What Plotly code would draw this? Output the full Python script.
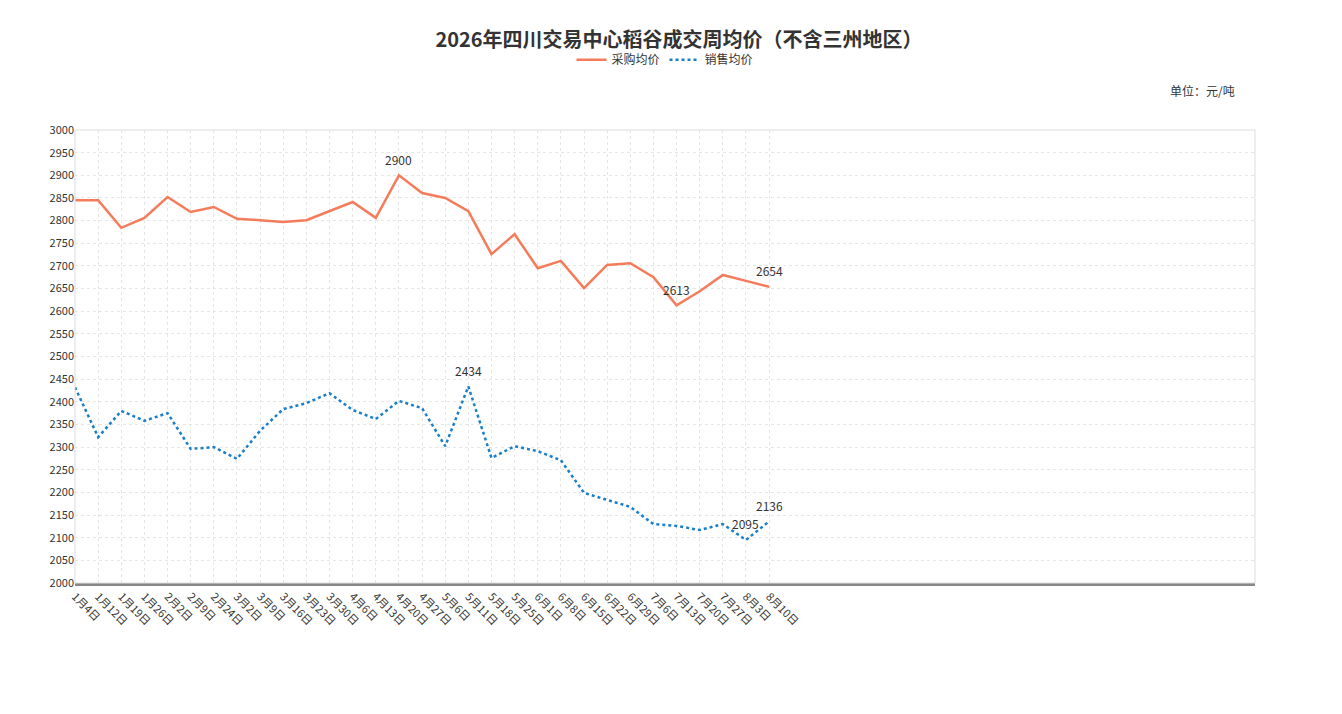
import plotly.graph_objects as go

dates = ["1月4日", "1月12日", "1月19日", "1月26日", "2月2日", "2月9日", "2月24日", "3月2日",
         "3月9日", "3月16日", "3月23日", "3月30日", "4月6日", "4月13日", "4月20日", "4月27日",
         "5月6日", "5月11日", "5月18日", "5月25日", "6月1日", "6月8日", "6月15日", "6月22日",
         "6月29日", "7月6日", "7月13日", "7月20日", "7月27日", "8月3日", "8月10日"]
purchase = [2845, 2845, 2784, 2806, 2852, 2819, 2830, 2804, 2801, 2797, 2801, 2821, 2841,
            2806, 2900, 2861, 2850, 2821, 2726, 2770, 2695, 2711, 2651, 2702, 2706, 2675,
            2613, 2644, 2680, 2667, 2654]
sales = [2432, 2322, 2380, 2358, 2375, 2296, 2300, 2274, 2336, 2384, 2397, 2419, 2382,
         2362, 2402, 2386, 2302, 2434, 2276, 2302, 2291, 2271, 2199, 2183, 2168, 2130,
         2126, 2117, 2130, 2095, 2136]

idx = list(range(len(dates)))
font = "Noto Sans CJK SC"

fig = go.Figure()
fig.add_trace(go.Scatter(x=idx, y=purchase, name="采购均价", mode="lines",
                         line=dict(color="#f47c5a", width=2.5)))
fig.add_trace(go.Scatter(x=idx, y=sales, name="销售均价", mode="lines",
                         line=dict(color="#1a7fc9", width=2.5, dash="dot")))

def mark(series):
    i_max = series.index(max(series))
    i_min = series.index(min(series))
    for i in sorted({i_max, i_min, len(series) - 1}):
        fig.add_annotation(x=i, y=series[i], text=str(series[i]), showarrow=False,
                           yshift=16, font=dict(size=12, color="#333"))

mark(purchase)
mark(sales)

fig.add_annotation(text="单位：元/吨", xref="paper", yref="paper", x=0.985, y=1.11,
                   xanchor="right", showarrow=False, font=dict(size=12, color="#333"))

fig.update_layout(
    width=1342, height=714,
    paper_bgcolor="white", plot_bgcolor="white",
    font=dict(family=font, color="#333"),
    title=dict(text="<b>2026年四川交易中心稻谷成交周均价（不含三州地区）</b>", x=0.5, y=0.965,
               xanchor="center", font=dict(size=20, color="#333")),
    legend=dict(orientation="h", x=0.5, xanchor="center", y=1.155, yanchor="middle",
                font=dict(size=12)),
    margin=dict(l=67, r=95, t=122, b=139),
    showlegend=True,
    xaxis=dict(range=[0, 51], tickvals=idx, ticktext=dates, tickangle=45,
               showgrid=True, gridcolor="#e6e6e6", griddash="dot",
               zeroline=False, showline=True, linecolor="#888", linewidth=3,
               tickfont=dict(size=11)),
    yaxis=dict(range=[2000, 3000], dtick=50, showgrid=True, gridcolor="#e6e6e6",
               griddash="dot", zeroline=False, showline=False, tickfont=dict(size=11)),
)
fig.add_shape(type="rect", xref="paper", yref="paper", x0=0, x1=1, y0=0, y1=1,
              line=dict(color="#ddd", width=1))
fig.write_html("out.html")
